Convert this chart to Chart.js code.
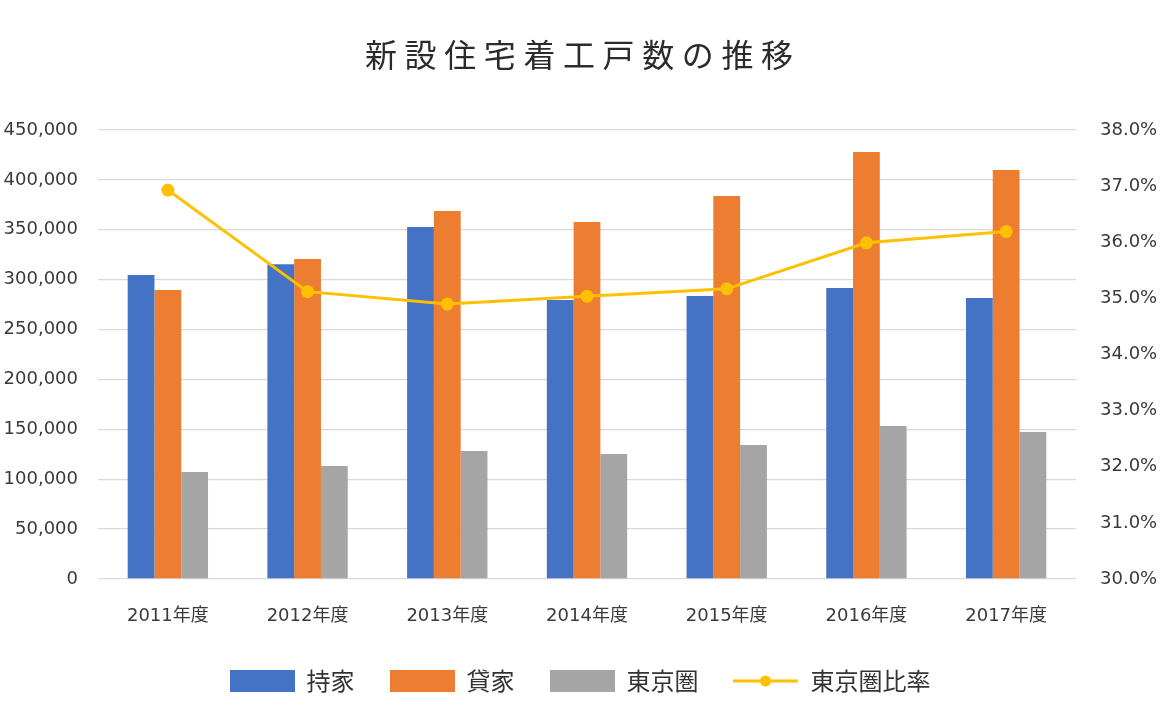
<!DOCTYPE html>
<html>
<head>
<meta charset="utf-8">
<script src="https://cdn.jsdelivr.net/npm/chart.js@4.4.0/dist/chart.umd.min.js"></script>
<style>
  html, body { margin: 0; padding: 0; background: #fff; overflow: hidden; }
  #wrap { width: 1160px; height: 727px; }
</style>
</head>
<body>
<div id="wrap"><canvas id="myChart" width="1160" height="727"></canvas></div>
<script>
var years = ['2011年度', '2012年度', '2013年度', '2014年度', '2015年度', '2016年度', '2017年度'];
var mochiie = [304700, 315500, 352800, 279600, 283600, 291600, 281600];
var kashiya = [289600, 320700, 368800, 357800, 383800, 428000, 409900];
var tokyoken = [107200, 113200, 128300, 125300, 134300, 153300, 147300];
var tokyoRatio = [36.93, 35.12, 34.90, 35.04, 35.17, 35.99, 36.19];
var chartTitle = '新設住宅着工戸数の推移';

var blue = '#4472C4', orange = '#ED7D31', gray = '#A5A5A5', gold = '#FFC000';

// legend icons: boxes for the bars, line with dot for the ratio
function makeIcon(kind, color) {
    var c = document.createElement('canvas');
    c.width = 65; c.height = 22;
    var g = c.getContext('2d');
    if (kind === 'box') {
        g.fillStyle = color;
        g.fillRect(0, 0, 65, 22);
    } else {
        g.strokeStyle = color;
        g.lineWidth = 3;
        g.beginPath(); g.moveTo(0, 11); g.lineTo(65, 11); g.stroke();
        g.fillStyle = color;
        g.beginPath(); g.arc(32, 11, 5.5, 0, Math.PI * 2); g.fill();
    }
    return c;
}
var legendIcons = [makeIcon('box', blue), makeIcon('box', orange), makeIcon('box', gray), makeIcon('line', gold)];

// title with wider letter spacing than Chart.js' title plugin allows
var titlePlugin = {
    id: 'spacedTitle',
    afterDraw: function (chart) {
        var ctx = chart.ctx;
        ctx.save();
        ctx.font = '32px "Noto Sans CJK JP"';
        ctx.fillStyle = '#2b2b2b';
        ctx.textBaseline = 'middle';
        ctx.textAlign = 'left';
        ctx.letterSpacing = '7.6px';
        ctx.fillText(chartTitle, 365, 55);
        ctx.restore();
    }
};

var tickFont = { family: '"DejaVu Sans", "Noto Sans CJK JP"', size: 18 };
var tickColor = '#3a3a3a';

var chart = new Chart(document.getElementById('myChart').getContext('2d'), {
    type: 'bar',
    data: {
        labels: years,
        datasets: [{
            label: '持家',
            data: mochiie,
            backgroundColor: blue,
            order: 1,
            yAxisID: 'y'
        }, {
            label: '貸家',
            data: kashiya,
            backgroundColor: orange,
            order: 1,
            yAxisID: 'y'
        }, {
            label: '東京圏',
            data: tokyoken,
            backgroundColor: gray,
            order: 1,
            yAxisID: 'y'
        }, {
            type: 'line',
            label: '東京圏比率',
            data: tokyoRatio,
            borderColor: gold,
            backgroundColor: gold,
            borderWidth: 3,
            pointRadius: 5,
            pointBackgroundColor: gold,
            pointBorderColor: gold,
            tension: 0,
            order: 0,
            yAxisID: 'y1'
        }]
    },
    options: {
        responsive: false,
        animation: false,
        layout: { padding: { top: 130, bottom: 24, left: 0, right: 0 } },
        datasets: {
            bar: { categoryPercentage: 0.575, barPercentage: 1.0 }
        },
        scales: {
            x: {
                grid: { display: false, drawTicks: false },
                border: { display: false },
                ticks: { font: tickFont, color: tickColor, padding: 27 },
                afterFit: function (s) { s.height = 55; }
            },
            y: {
                position: 'left',
                min: 0,
                max: 450000,
                grid: { color: '#D9D9D9', lineWidth: 1.3, drawTicks: false },
                border: { display: false },
                ticks: {
                    stepSize: 50000,
                    font: tickFont,
                    color: tickColor,
                    padding: 20,
                    callback: function (v) { return v.toLocaleString('en-US'); }
                },
                afterFit: function (s) { s.width = 98; }
            },
            y1: {
                position: 'right',
                min: 30,
                max: 38,
                grid: { drawOnChartArea: false, drawTicks: false },
                border: { display: false },
                ticks: {
                    stepSize: 1,
                    font: tickFont,
                    color: tickColor,
                    padding: 24,
                    callback: function (v) { return v.toFixed(1) + '%'; }
                },
                afterFit: function (s) { s.width = 84; }
            }
        },
        plugins: {
            title: { display: false },
            tooltip: { enabled: false },
            legend: {
                position: 'bottom',
                labels: {
                    usePointStyle: true,
                    pointStyleWidth: 65,
                    boxHeight: 22,
                    padding: 35,
                    color: '#333333',
                    font: { family: '"Noto Sans CJK JP"', size: 24 },
                    generateLabels: function (c) {
                        var items = Chart.defaults.plugins.legend.labels.generateLabels(c);
                        items.forEach(function (it) { it.pointStyle = legendIcons[it.datasetIndex]; });
                        items.sort(function (a, b) { return a.datasetIndex - b.datasetIndex; });
                        return items;
                    }
                }
            }
        }
    },
    plugins: [titlePlugin]
});
</script>
</body>
</html>
